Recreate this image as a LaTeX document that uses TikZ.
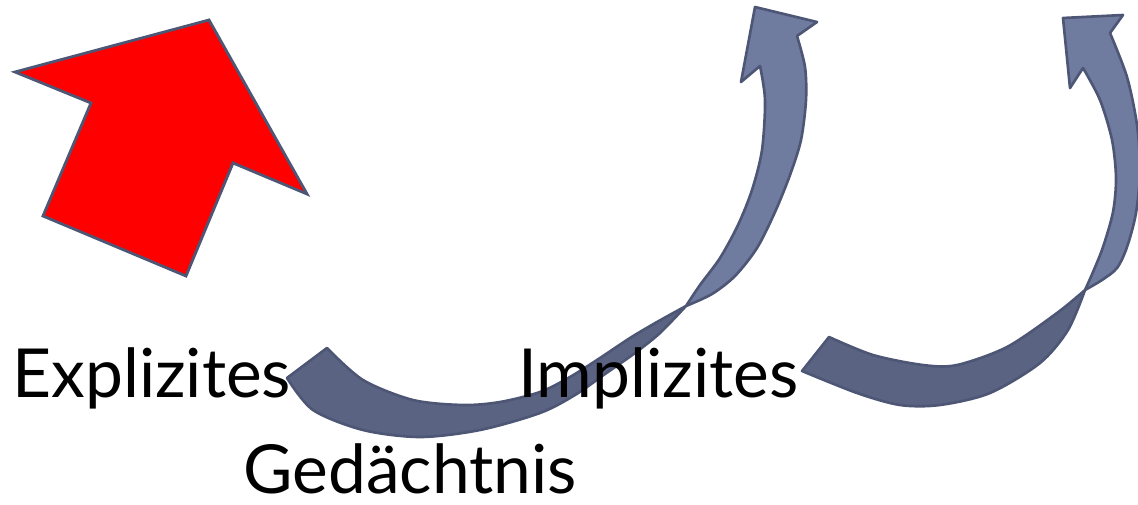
\documentclass[tikz,border=0pt]{standalone}
\usepackage{fontspec}
\setmainfont{Lato}
\usepackage{tikz}
\definecolor{slateline}{RGB}{78, 86, 117}
\definecolor{bandfront}{RGB}{112, 123, 160}
\definecolor{bandback}{RGB}{90, 99, 130}

\begin{document}
\begin{tikzpicture}[
    x=0.02cm, y=-0.02cm,
    bigarrow/.style={draw=slateline, line width=1.6pt, line join=miter, fill=red},
    front/.style={draw=slateline, line width=1.5pt, line join=round, fill=bandfront},
    back/.style={draw=slateline, line width=1.5pt, line join=round, fill=bandback},
    word/.style={inner sep=0pt, anchor=base west, font=\fontsize{38.5}{39}\selectfont}
]
\useasboundingbox (0,0) rectangle (1138,504);
\clip (0,0) rectangle (1138,504);
% red block arrow
\filldraw[bigarrow] (209,20) -- (15,72) -- (91,103) -- (43,216) -- (186,276)
    -- (233,163) -- (307,194) -- cycle;
% middle curved arrow, back side
\filldraw[back] plot[smooth] coordinates {(686,306) (657,322) (630,338) (600,358)
    (570,377) (540,392) (500,402) (463,405) (413,400) (363,380) (327,348)}
    -- plot[smooth] coordinates {(287,378) (313,410) (363,430) (420,437) (480,430)
    (540,413) (575,395) (605,374) (635,353) (660,333) (686,306)} -- cycle;
% middle curved arrow, front side
\filldraw[front] plot[smooth] coordinates {(686,306) (712,294) (735,276) (757,248)
    (775,212) (790,175) (801,140) (806,100) (805,67) (797,36)}
    -- (817,22) -- (755,7) -- (741,82)
    -- plot[smooth] coordinates {(760,66) (765,100) (762,150) (752,190) (738,225)
    (720,258) (700,285) (686,306)} -- cycle;
% right curved arrow, back side
\filldraw[back] plot[smooth] coordinates {(1085,290) (1057,313) (1007,347) (957,365)
    (923,365) (873,355) (829,337)}
    -- plot[smooth] coordinates {(802,371) (857,393) (900,405) (940,405) (990,393)
    (1040,363) (1068,330) (1085,290)} -- cycle;
% right curved arrow, front side
\filldraw[front] plot[smooth] coordinates {(1085,290) (1102,280) (1117,268) (1127,247)
    (1136,213) (1140,170) (1137,125) (1127,77) (1110,33)}
    -- (1123,15) -- (1063,18) -- (1070,88)
    -- plot[smooth] coordinates {(1083,68) (1100,100) (1112,140) (1116,178) (1113,212)
    (1103,247) (1093,272) (1085,290)} -- cycle;
% labels
\node[word] (explizit) at (12,397) {Explizites};
\node[word] (implizit) at (518,397) {Implizites};
\node[word] (gedaechtnis) at (243,493) {Gedächtnis};
\end{tikzpicture}
\end{document}
